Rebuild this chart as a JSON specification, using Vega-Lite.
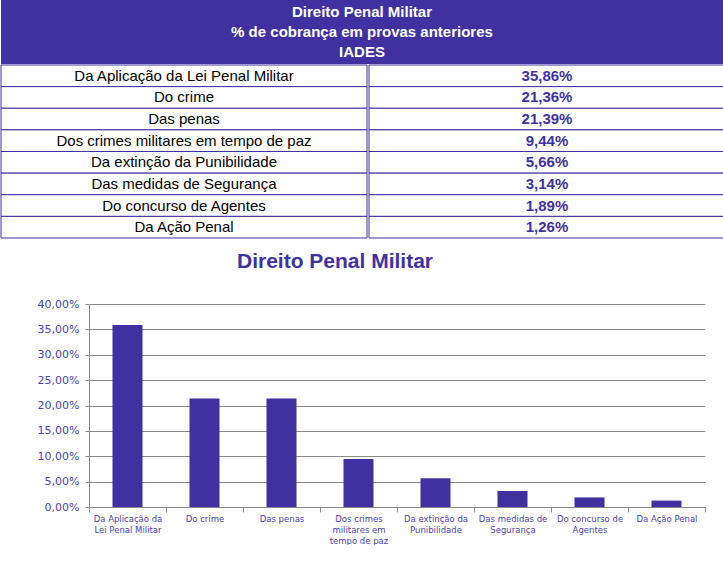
{
  "$schema": "https://vega.github.io/schema/vega-lite/v6.json",
  "padding": 0,
  "background": "white",
  "config": {
    "locale": {"number": {"decimal": ",", "thousands": ".", "grouping": [3], "currency": ["R$", ""]}},
    "view": {"stroke": null}
  },
  "datasets": {
    "header": [
      {"line": 1, "text": "Direito Penal Militar"},
      {"line": 2, "text": "% de cobrança em provas anteriores"},
      {"line": 3, "text": "IADES"}
    ],
    "topics": [
      {"topic": "Da Aplicação da Lei Penal Militar", "pct": 0.3586},
      {"topic": "Do crime", "pct": 0.2136},
      {"topic": "Das penas", "pct": 0.2139},
      {"topic": "Dos crimes militares em tempo de paz", "pct": 0.0944},
      {"topic": "Da extinção da Punibilidade", "pct": 0.0566},
      {"topic": "Das medidas de Segurança", "pct": 0.0314},
      {"topic": "Do concurso de Agentes", "pct": 0.0189},
      {"topic": "Da Ação Penal", "pct": 0.0126}
    ]
  },
  "spacing": 12,
  "vconcat": [
    {
      "spacing": 0,
      "vconcat": [
        {
          "width": 722,
          "height": 64,
          "data": {"name": "header"},
          "view": {"fill": "#4131a0", "stroke": null},
          "mark": {"type": "text", "color": "white", "font": "Liberation Sans", "fontSize": 15, "fontWeight": "bold", "baseline": "middle"},
          "encoding": {
            "y": {"field": "line", "type": "ordinal", "axis": null, "scale": {"type": "point", "padding": 0.6}},
            "text": {"field": "text"}
          }
        },
        {
          "spacing": 0,
          "hconcat": [
            {
              "width": 366,
              "height": 173,
              "data": {"name": "topics"},
              "layer": [
                {
                  "mark": {"type": "rect", "fill": "white", "stroke": "#4131a0", "strokeWidth": 1},
                  "encoding": {
                    "y": {"field": "topic", "type": "nominal", "sort": null, "axis": null, "scale": {"type": "band", "paddingInner": 0, "paddingOuter": 0}}
                  }
                },
                {
                  "mark": {"type": "text", "font": "Liberation Sans", "fontSize": 15, "color": "#000000", "baseline": "middle"},
                  "encoding": {
                    "y": {"field": "topic", "type": "nominal", "sort": null, "axis": null},
                    "text": {"field": "topic"}
                  }
                }
              ]
            },
            {
              "width": 356,
              "height": 173,
              "data": {"name": "topics"},
              "layer": [
                {
                  "mark": {"type": "rect", "fill": "white", "stroke": "#4131a0", "strokeWidth": 1},
                  "encoding": {
                    "y": {"field": "topic", "type": "nominal", "sort": null, "axis": null, "scale": {"type": "band", "paddingInner": 0, "paddingOuter": 0}}
                  }
                },
                {
                  "mark": {"type": "text", "font": "Liberation Sans", "fontSize": 15, "fontWeight": "bold", "color": "#4131a0", "baseline": "middle"},
                  "encoding": {
                    "y": {"field": "topic", "type": "nominal", "sort": null, "axis": null},
                    "text": {"field": "pct", "type": "quantitative", "format": ".2%"}
                  }
                }
              ]
            }
          ]
        }
      ]
    },
    {
      "width": 704,
      "height": 203,
      "data": {"name": "topics"},
      "title": {"text": "Direito Penal Militar", "font": "Liberation Sans", "fontSize": 21, "fontWeight": "bold", "color": "#4131a0", "anchor": "middle", "dx": -18, "baseline": "alphabetic", "offset": 9},
      "mark": {"type": "bar", "color": "#4131a0", "width": {"band": 0.39}},
      "encoding": {
        "x": {
          "field": "topic", "type": "nominal", "sort": null,
          "scale": {"paddingInner": 0, "paddingOuter": 0, "range": [88, 704]},
          "axis": {
            "title": null, "labelAngle": 0, "tickBand": "extent", "tickSize": 5, "tickColor": "#888888", "domainColor": "#888888",
            "labelFont": "DejaVu Sans", "labelFontSize": 8.5, "labelColor": "#4a3fae", "labelPadding": 2, "labelLineHeight": 11, "labelOverlap": false,
            "labelExpr": "datum.label == 'Da Aplicação da Lei Penal Militar' ? ['Da Aplicação da', 'Lei Penal Militar'] : datum.label == 'Dos crimes militares em tempo de paz' ? ['Dos crimes', 'militares em', 'tempo de paz'] : datum.label == 'Da extinção da Punibilidade' ? ['Da extinção da', 'Punibilidade'] : datum.label == 'Das medidas de Segurança' ? ['Das medidas de', 'Segurança'] : datum.label == 'Do concurso de Agentes' ? ['Do concurso de', 'Agentes'] : datum.label"
          }
        },
        "y": {
          "field": "pct", "type": "quantitative",
          "scale": {"domain": [0, 0.4], "nice": false},
          "axis": {
            "values": [0, 0.05, 0.1, 0.15, 0.2, 0.25, 0.3, 0.35, 0.4], "format": ".2%", "offset": -88,
            "grid": true, "gridColor": "#888888", "gridDash": [616, 3000], "tickColor": "#888888", "tickSize": 4, "domainColor": "#888888",
            "labelFont": "DejaVu Sans", "labelFontSize": 11, "labelColor": "#4a3fae", "labelPadding": 6,
            "title": null
          }
        }
      }
    }
  ]
}
